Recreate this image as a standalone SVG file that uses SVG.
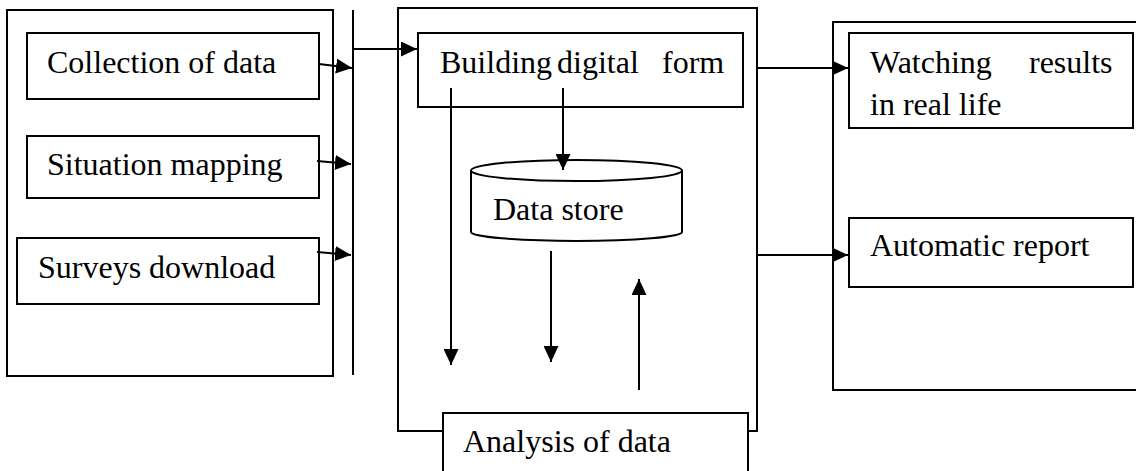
<svg xmlns="http://www.w3.org/2000/svg" width="1136" height="471" viewBox="0 0 1136 471">
<style>
.box{fill:#fff;stroke:#000;stroke-width:2}
.ln{fill:none;stroke:#000;stroke-width:2}
.t{font-family:"Liberation Serif","Times New Roman",serif;font-size:32px;fill:#000}
</style>
<defs>
<marker id="ah" markerUnits="userSpaceOnUse" markerWidth="16" markerHeight="15" refX="16" refY="7.5" orient="auto">
<path d="M0,0 L16,7.5 L0,15 z" fill="#000"/>
</marker>
</defs>
<g id="input-group">
<rect class="box" x="7" y="10" width="326" height="366"/>
</g>
<g id="collection">
<rect class="box" x="27" y="33" width="292" height="66"/>
<text class="t" x="47" y="73">Collection of data</text>
</g>
<g id="situation">
<rect class="box" x="27" y="136" width="292" height="62"/>
<text class="t" x="47" y="175">Situation mapping</text>
</g>
<g id="surveys">
<rect class="box" x="17" y="238" width="302" height="66"/>
<text class="t" x="38" y="278">Surveys download</text>
</g>
<g id="processing-group">
<rect class="box" x="398" y="8" width="359" height="423"/>
</g>
<g id="building">
<rect class="box" x="418" y="33" width="325" height="74"/>
<text class="t" x="440" y="73">Building<tspan x="557">digital</tspan><tspan x="662">form</tspan></text>
</g>
<g id="datastore">
<path class="box" d="M471,170.5 V232 A105.5,9 0 0 0 682,232 V170.5"/>
<ellipse class="box" cx="576.5" cy="170.5" rx="105.5" ry="10.5"/>
<text class="t" x="493" y="220">Data store</text>
</g>
<g id="analysis">
<rect class="box" x="443" y="413" width="305" height="70"/>
<text class="t" x="463" y="452">Analysis of data</text>
</g>
<g id="output-group">
<rect class="box" x="833" y="22" width="320" height="368"/>
</g>
<g id="watching">
<rect class="box" x="849" y="33" width="284" height="95"/>
<text class="t" x="870" y="73">Watching<tspan x="1029">results</tspan><tspan x="870" y="115">in real life</tspan></text>
</g>
<g id="report">
<rect class="box" x="849" y="218" width="284" height="69"/>
<text class="t" x="870" y="256">Automatic report</text>
</g>
<g id="connectors">
<line class="ln" x1="353" y1="10" x2="353" y2="375"/>
<line class="ln" x1="319" y1="64" x2="352" y2="68" marker-end="url(#ah)"/>
<line class="ln" x1="317" y1="161" x2="351" y2="164" marker-end="url(#ah)"/>
<line class="ln" x1="317" y1="252" x2="351" y2="255" marker-end="url(#ah)"/>
<line class="ln" x1="353" y1="49" x2="417" y2="49" marker-end="url(#ah)"/>
<line class="ln" x1="451" y1="88" x2="451" y2="365" marker-end="url(#ah)"/>
<line class="ln" x1="563" y1="88" x2="563" y2="170" marker-end="url(#ah)"/>
<line class="ln" x1="551" y1="251" x2="551" y2="362" marker-end="url(#ah)"/>
<line class="ln" x1="639" y1="390" x2="639" y2="279" marker-end="url(#ah)"/>
<line class="ln" x1="757" y1="68" x2="848" y2="68" marker-end="url(#ah)"/>
<line class="ln" x1="757" y1="255" x2="848" y2="255" marker-end="url(#ah)"/>
</g>
</svg>
